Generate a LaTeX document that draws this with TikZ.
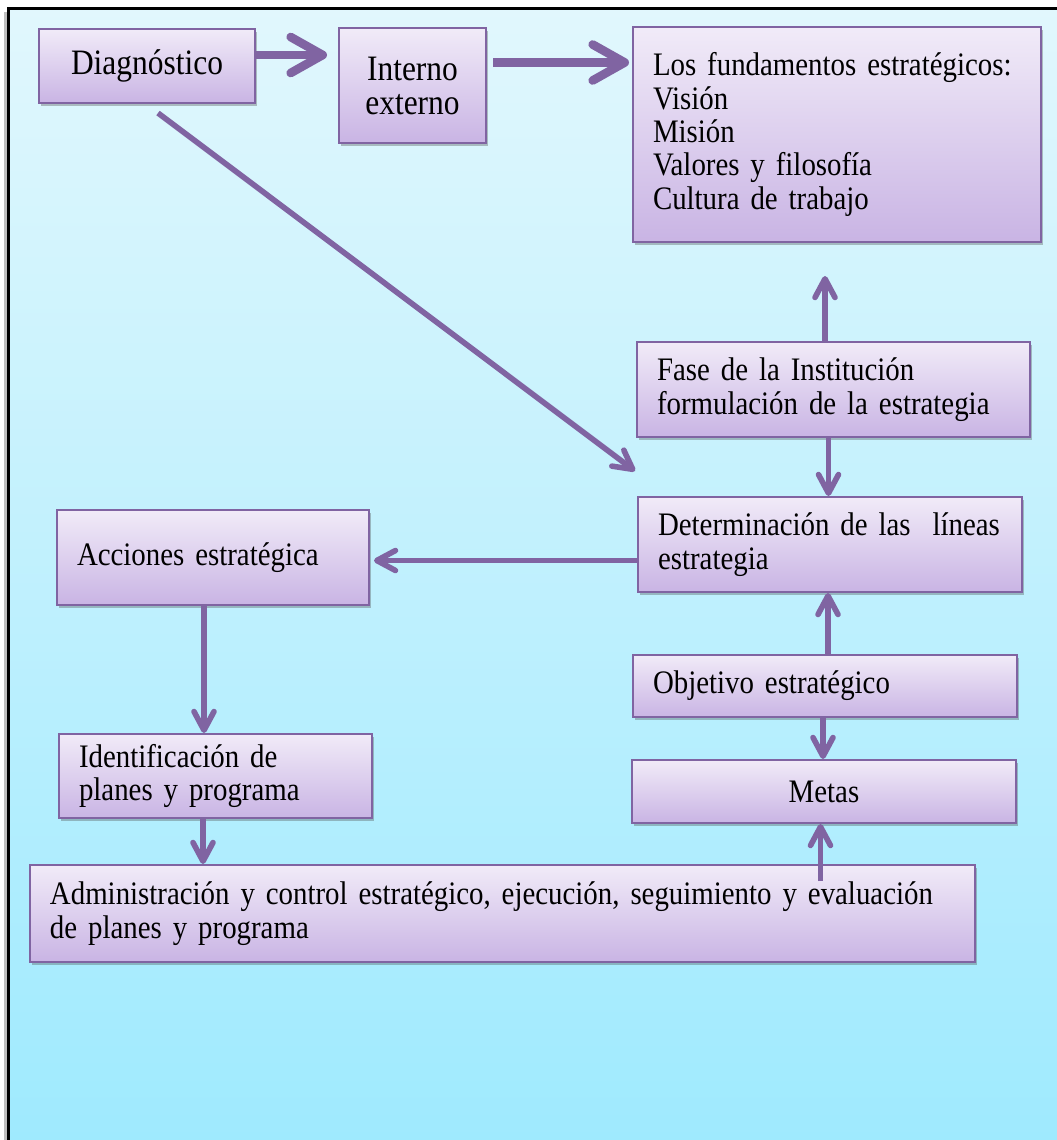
\documentclass[tikz,border=0pt]{standalone}
\usepackage{fontspec}
\setmainfont{Liberation Serif}[FakeStretch=0.88]
\usetikzlibrary{arrows.meta,shadows,calc}
\definecolor{boxline}{HTML}{8064A2}
\definecolor{arrowc}{HTML}{8064A2}
\definecolor{boxtop}{HTML}{F1EBF8}
\definecolor{boxbot}{HTML}{C9B4E4}
\definecolor{bgtop}{HTML}{E1F7FD}
\definecolor{bgbot}{HTML}{9FEAFE}
\newcommand\mybodyfont{\fontsize{24.6}{25}\selectfont\spaceskip=5.1pt plus 2.5pt minus 1.5pt\xspaceskip=5.1pt plus 2.5pt minus 1.5pt\relax}
\newcommand\mybigfont[1]{\fontsize{26.8}{#1}\selectfont\spaceskip=5.9pt plus 2.5pt minus 1.5pt\relax}
\begin{document}
\begin{tikzpicture}[x=0.75pt,y=-0.75pt,
  box/.style={draw=boxline,line width=1.5pt,top color=boxtop,bottom color=boxbot,
    drop shadow={shadow xshift=1.2pt,shadow yshift=-2.2pt,opacity=0.35,fill=black!70},
    inner xsep=15pt,inner ysep=0pt,align=left,font=\mybodyfont,anchor=center},
  cbox/.style={box,align=center,inner xsep=0pt},
  bigarrow/.style={draw=arrowc,line width=6.5pt,-{Straight Barb[length=24pt,width=27pt,round]}},
  arrow/.style={draw=arrowc,line width=4.2pt,-{Straight Barb[length=14pt,width=15pt,round]}},
]
\useasboundingbox (0,0) rectangle (1057,1140);
\fill[white] (0,0) rectangle (1057,1140);
\fill[top color=bgtop,bottom color=bgbot] (8,8) rectangle (1057,1140);
\fill[black!25] (4,12) rectangle (7,1140);
\draw[line width=2.4pt,line cap=rect] (8.5,1140) -- (8.5,8.5) -- (1057,8.5);

\node[cbox,minimum width=162pt,minimum height=55.5pt,font=\mybigfont{27}] (diag) at (147,66) {Diagnóstico};
\node[cbox,minimum width=110.25pt,minimum height=86.25pt,font=\mybigfont{25.5}] (int) at (412.5,85.5) {Interno\\externo};
\node[box,text width=276pt,minimum height=161.25pt] (fund) at (837,134.5) {Los fundamentos estratégicos:\\Visión\\Misión\\Valores y filosofía\\Cultura de trabajo};
\node[box,text width=264.75pt,minimum height=71.25pt] (fase) at (833.5,389.5) {Fase de la Institución\\formulación de la estrategia};
\node[box,text width=258pt,minimum height=71.25pt] (det) at (830,544.5) {\mbox{Determinación de las\ \ líneas}\\estrategia};
\node[box,text width=258pt,minimum height=46.5pt] (obj) at (825,686) {Objetivo estratégico};
\node[cbox,minimum width=288pt,minimum height=47.25pt] (metas) at (824,791.5) {Metas};
\node[box,text width=204pt,minimum height=71.25pt] (acc) at (213,557.5) {Acciones estratégica};
\node[box,text width=204.75pt,minimum height=63pt] (ident) at (215.5,776) {Identificación de\\planes y programa};
\node[box,text width=678.75pt,minimum height=72.75pt] (admin) at (502.5,913.5) {Administración y control estratégico, ejecución, seguimiento y evaluación\\de planes y programa};

\coordinate (a1s) at ($(diag.east)+(0,-11)$);
\draw[bigarrow] (a1s) -- ($(a1s -| int.west)+(-11,0)$);
\coordinate (a2s) at ($(int.east)+(6,-23)$);
\draw[bigarrow] (a2s) -- ($(a2s -| fund.west)+(-3,0)$);
\draw[arrow] ($(diag.south)+(11,9)$) -- ($(det.north west)+(-2,-25)$);
\coordinate (a4s) at ($(fase.north)+(-8.5,0)$);
\draw[arrow] (a4s) -- ($(a4s |- fund.south)+(0,33)$);
\coordinate (a5s) at ($(fase.south)+(-5,0)$);
\draw[arrow] (a5s) -- (a5s |- det.north);
\coordinate (a6s) at ($(det.west)+(0,16)$);
\draw[arrow] (a6s) -- ($(a6s -| acc.east)+(4,0)$);
\coordinate (a7s) at ($(acc.south)+(-9,0)$);
\draw[arrow] (a7s) -- (a7s |- ident.north);
\coordinate (a8s) at ($(ident.south)+(-12.5,0)$);
\draw[arrow] (a8s) -- (a8s |- admin.north);
\coordinate (a9s) at ($(obj.north)+(3,0)$);
\draw[arrow] (a9s) -- (a9s |- det.south);
\coordinate (a10s) at ($(obj.south)+(-2,0)$);
\draw[arrow] (a10s) -- (a10s |- metas.north);
\coordinate (a11s) at ($(admin.north)+(318,17)$);
\draw[arrow] (a11s) -- (a11s |- metas.south);
\end{tikzpicture}
\end{document}
